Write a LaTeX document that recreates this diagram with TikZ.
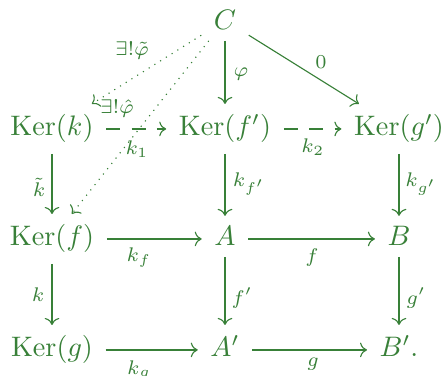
\documentclass[tikz,border=0pt]{standalone}
\usetikzlibrary{arrows.meta}
\definecolor{grn}{RGB}{56,128,56}
\begin{document}
\begin{tikzpicture}[x=0.3546pt,y=-0.3546pt,
  every node/.style={text=grn},
  obj/.style={anchor=base, inner xsep=4.3pt, inner ysep=3.66pt},
  lab/.style={inner sep=0pt, font=\scriptsize},
  arr/.style={draw=grn, line width=0.4pt, -{Computer Modern Rightarrow}},
  dsh/.style={arr, dash pattern=on 5pt off 4pt},
  dot/.style={arr, dotted}]
\useasboundingbox (0,0) rectangle (445,376);
% objects
\node[obj] (C)   at (225,30)  {$C$};
\node[obj] (Kk)  at (52,136)  {$\mathrm{Ker}(k)$};
\node[obj] (Kfp) at (225,136) {$\mathrm{Ker}(f')$};
\node[obj] (Kgp) at (399,136) {$\mathrm{Ker}(g')$};
\node[obj] (Kf)  at (52,246)  {$\mathrm{Ker}(f)$};
\node[obj] (A)   at (225,246) {$A$};
\node[obj] (B)   at (399,246) {$B$};
\node[obj] (Kg)  at (52,357)  {$\mathrm{Ker}(g)$};
\node[obj] (Ap)  at (225,357) {$A'$};
\node[obj] (Bp)  at (399,357) {$B'.$};
% arrows from C
\draw[arr] (C) -- (Kfp) node[lab, at={(241,74)}] {$\varphi$};
\draw[arr] (C) -- (Kgp) node[lab, at={(321,62)}] {$0$};
\draw[dot] (C) -- (Kk) node[lab, at={(132,51)}] {$\exists!\tilde{\varphi}$};
\draw[dot] (C) -- (Kf) node[lab, at={(117,109)}] {$\exists!\hat{\varphi}$};
% top row
\draw[dsh] ([yshift=2.5pt]Kk.base east) -- ([yshift=2.5pt]Kfp.base west)
  node[lab, at={(137,149)}] {$k_1$};
\draw[dsh] ([yshift=2.5pt]Kfp.base east) -- ([yshift=2.5pt]Kgp.base west)
  node[lab, at={(313,147)}] {$k_2$};
% verticals
\draw[arr] (Kk) -- (Kf) node[lab, at={(39,187)}] {$\tilde{k}$};
\draw[arr] (Kfp) -- (A) node[lab, at={(249,184)}] {$k_{f'}$};
\draw[arr] (Kgp) -- (B) node[lab, at={(421,184)}] {$k_{g'}$};
\draw[arr] (Kf) -- (Kg) node[lab, at={(38,295)}] {$k$};
\draw[arr] (A) -- (Ap) node[lab, at={(242,298)}] {$f'$};
\draw[arr] (B) -- (Bp) node[lab, at={(416,298)}] {$g'$};
% middle row
\draw[arr] ([yshift=2.5pt]Kf.base east) -- ([yshift=2.5pt]A.base west)
  node[lab, at={(139,258)}] {$k_f$};
\draw[arr] ([yshift=2.5pt]A.base east) -- ([yshift=2.5pt]B.base west)
  node[lab, at={(312,258)}] {$f$};
% bottom row
\draw[arr] ([yshift=2.5pt]Kg.base east) -- ([yshift=2.5pt]Ap.base west)
  node[lab, at={(139,370)}] {$k_g$};
\draw[arr] ([yshift=2.5pt]Ap.base east) -- ([yshift=2.5pt]Bp.base west)
  node[lab, at={(313,364)}] {$g$};
\end{tikzpicture}
\end{document}
